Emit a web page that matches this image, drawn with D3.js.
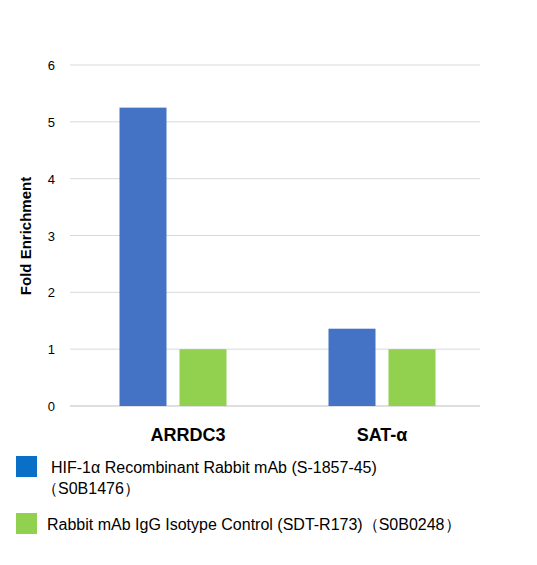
<!DOCTYPE html><html><head><script src="https://cdn.jsdelivr.net/npm/d3@7"></script>
<style>body{margin:0;background:#fff}</style></head><body><svg id="c" width="537" height="565"></svg><script>
const categories=["ARRDC3","SAT-α"];
const seriesNames=["HIF-1α Recombinant Rabbit mAb (S-1857-45)","Rabbit mAb IgG Isotype Control (SDT-R173)（S0B0248）"];
const hifValues=[5.25,1.36];
const iggValues=[1,1];
const yTicks=[0,1,2,3,4,5,6];
const colors=["#4472c4","#92d050"];
const svg=d3.select("#c"),F="Arial, Liberation Sans, sans-serif";
const y=d3.scaleLinear().domain([0,6]).range([406,65]);
const x=d3.scaleBand().domain(categories).range([68.5,486.5]);
svg.append("g").selectAll("line").data(yTicks).join("line").attr("x1",70).attr("x2",480).attr("y1",d=>y(d)).attr("y2",d=>y(d)).attr("stroke",d=>d?"#d9d9d9":"#bfbfbf");
svg.append("g").selectAll("text").data(yTicks).join("text").attr("x",55).attr("y",d=>y(d)+5).attr("text-anchor","end").attr("font-family",F).attr("font-size",13).text(d=>d);
const sub=d3.scaleBand().domain([0,1]).range([0,x.bandwidth()]).paddingInner(0.2167).paddingOuter(0.85);
[hifValues,iggValues].forEach((vals,si)=>{
 svg.append("g").selectAll("rect").data(vals).join("rect").attr("x",(d,i)=>x(categories[i])+sub(si)).attr("width",sub.bandwidth()).attr("y",d=>y(d)).attr("height",d=>y(0)-y(d)).attr("fill",colors[si]);
});
svg.append("g").selectAll("text").data(categories).join("text").attr("x",(d,i)=>x(d)+x.bandwidth()/2+(i===0?15:0)).attr("y",441).attr("text-anchor","middle").attr("font-family",F).attr("font-weight","bold").attr("font-size",18).text(d=>d);
svg.append("text").attr("transform","translate(31,236) rotate(-90)").attr("text-anchor","middle").attr("font-family",F).attr("font-weight","bold").attr("font-size",15).text("Fold Enrichment");
svg.append("rect").attr("x",16).attr("y",456).attr("width",21).attr("height",21).attr("fill","#0a6fc6");
svg.append("rect").attr("x",16).attr("y",513).attr("width",21).attr("height",21).attr("fill","#92d050");
svg.append("text").attr("x",51).attr("y",473).attr("font-family",F).attr("font-size",16).text(seriesNames[0]);
svg.append("text").attr("x",42).attr("y",494).attr("font-family",F).attr("font-size",16).text("（S0B1476）");
svg.append("text").attr("x",47).attr("y",530).attr("font-family",F).attr("font-size",16).text(seriesNames[1]);
</script></body></html>
